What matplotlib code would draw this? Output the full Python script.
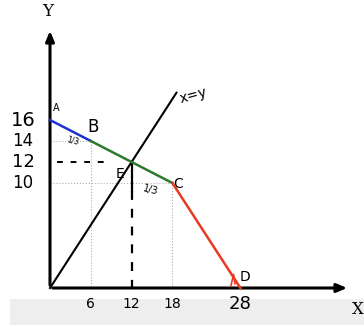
import matplotlib
matplotlib.use("Agg")
import matplotlib.pyplot as plt
from matplotlib.patches import Rectangle

# Kinked budget line A-B-E-C-D and the 45-degree line
SEG_AB_X, SEG_AB_Y = [0, 6], [16, 14]
SEG_BC_X, SEG_BC_Y = [6, 12, 18], [14, 12, 10]
SEG_CD_X, SEG_CD_Y = [18, 28], [10, 0]
DIAG_X, DIAG_Y = [0, 18.6], [0, 18.6]
Y_TICKS = [16, 14, 12, 10]
X_TICKS = [6, 12, 18, 28]
POINT_LABELS = ["A", "B", "E", "C", "D"]

W, H = 364, 327
X0, Y0 = 50, 288          # pixel position of origin
SX, SY = 6.8, 10.5        # pixels per unit

fig = plt.figure(figsize=(W / 100, H / 100), dpi=100)
ax = fig.add_axes([0, 0, 1, 1])
ax.set_xlim(-X0 / SX, (W - X0) / SX)
ax.set_ylim((Y0 - H) / SY, Y0 / SY)
ax.axis("off")


def px(x, y):
    """pixel (top-down) -> data coords"""
    return (x - X0) / SX, (Y0 - y) / SY


# grey bar at the bottom (video frame)
bx, by = px(10, 325)
ax.add_patch(Rectangle((bx, by), 400, (325 - 299) / SY, color="#eeeeee", lw=0, zorder=0))

# guide lines
ax.plot([0, 6, 6], [14, 14, 0], color="#b0b0b0", lw=0.8, ls=":", zorder=1)
ax.plot([0, 18, 18], [10, 10, 0], color="#b0b0b0", lw=0.8, ls=":", zorder=1)
ax.plot([1.0, 8.0], [12, 12], color="black", lw=1.4, ls=(0, (3, 4)), zorder=2)
ax.plot([12, 12], [12, 9.2], color="black", lw=1.6, zorder=2)
ax.plot([12, 12], [9.2, 0], color="black", lw=1.6, ls=(0, (4, 4)), zorder=2)

# axes with arrows
xe, _ = px(350, 0)
_, ye = px(0, 28)
ax.annotate("", xy=(xe, 0), xytext=(0, 0),
            arrowprops=dict(arrowstyle="-|>,head_length=0.6,head_width=0.25", color="black", lw=2.2))
ax.annotate("", xy=(0, ye), xytext=(0, 0),
            arrowprops=dict(arrowstyle="-|>,head_length=0.6,head_width=0.25", color="black", lw=2.2))

# lines
ax.plot(DIAG_X, DIAG_Y, color="black", lw=1.5, zorder=3)
ax.plot(SEG_AB_X, SEG_AB_Y, color="#2030d0", lw=1.8, zorder=4)
ax.plot(SEG_BC_X, SEG_BC_Y, color="#2a7a2a", lw=1.8, zorder=4)
ax.plot(SEG_CD_X, SEG_CD_Y, color="#e83a22", lw=1.8, zorder=4)
ax.plot([26.6, 27.0, 27.2], [0.2, 1.3, 0.4], color="#e83a22", lw=1.2, zorder=4)

# axis titles
ax.text(*px(48, 12), "Y", fontsize=12, family="DejaVu Serif", ha="center", va="center")
ax.text(*px(358, 310), "X", fontsize=12, family="DejaVu Serif", ha="center", va="center")
ax.text(*px(193, 96), "x=y", fontsize=10, ha="center", va="center", rotation=15)

# tick labels
tx, _ = px(23, 0)
for v, fs in zip(Y_TICKS, [14, 12, 13, 12]):
    ax.text(tx, v, str(v), fontsize=fs, ha="center", va="center")
_, ty = px(0, 304)
for v, fs in zip(X_TICKS, [10, 10, 10, 13]):
    ax.text(v, ty, str(v), fontsize=fs, ha="center", va="center")

# point labels
pts = [(56, 108, 7), (93, 127, 12), (120, 174, 10), (178, 184, 10), (245, 277, 10)]
for lab, (x, y, fs) in zip(POINT_LABELS, pts):
    ax.text(*px(x, y), lab, fontsize=fs, ha="center", va="center")
ax.text(*px(73, 141), "1/3", fontsize=5.5, ha="center", va="center", rotation=-15)
ax.text(*px(150, 190), "1/3", fontsize=7, ha="center", va="center", rotation=-15)

fig.savefig("out.png", dpi=100)
